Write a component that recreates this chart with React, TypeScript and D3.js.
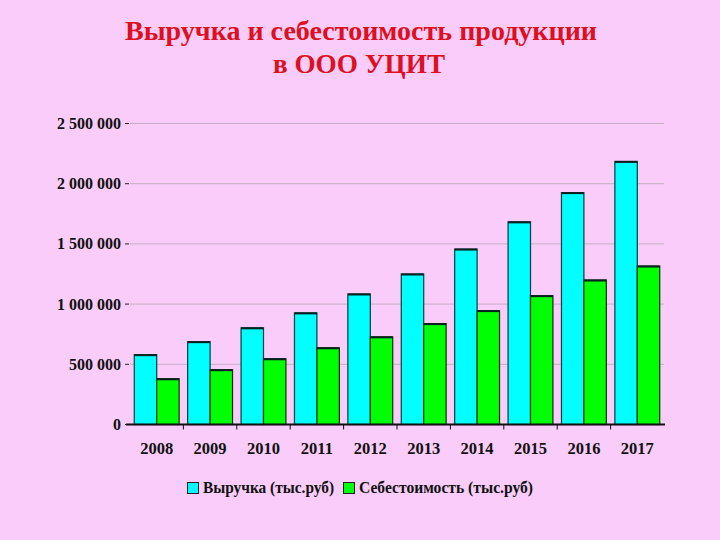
import React from "react";
import * as d3 from "d3";

const years = ["2008", "2009", "2010", "2011", "2012", "2013", "2014", "2015", "2016", "2017"];
const revenue = [580000, 688000, 803000, 927000, 1084000, 1250000, 1457000, 1683000, 1926000, 2185000];
const cost = [380000, 455000, 546000, 637000, 728000, 838000, 946000, 1070000, 1200000, 1316000];
const yTicks = [0, 500000, 1000000, 1500000, 2000000, 2500000];
const seriesNames = ["Выручка (тыс.руб)", "Себестоимость (тыс.руб)"];
const seriesColors = ["#00FFFF", "#00FF00"];
const seriesStroke = ["#073c3c", "#0b2f0b"];

const W = 720, H = 540;
const left = 130, right = 664, top = 123.5, bottom = 424.5;

const locale = d3.formatLocale({ decimal: ",", thousands: " ", grouping: [3], currency: ["", ""] });
const fmt = locale.format(",");

export default function App() {
  const x = d3.scaleBand().domain(years).range([left, right]).paddingInner(0.16).paddingOuter(0.08);
  const y = d3.scaleLinear().domain([0, 2500000]).range([bottom, top]);
  const bw = x.bandwidth() / 2;
  const step = x.step();
  const font = "'Liberation Serif', 'Times New Roman', serif";
  const series = [revenue, cost];
  return (
    <svg width={W} height={H} style={{ position: "absolute", left: 0, top: 0, display: "block" }}>
      <rect x={0} y={0} width={W} height={H} fill="#F9CCF9" />
      <text x={361} y={40} textAnchor="middle" fontFamily={font} fontWeight="bold" fontSize={27.5} fill="#DE0F1E"
        textLength={472} lengthAdjust="spacingAndGlyphs">
        Выручка и себестоимость продукции
      </text>
      <text x={359} y={73} textAnchor="middle" fontFamily={font} fontWeight="bold" fontSize={27.5} fill="#DE0F1E"
        textLength={172} lengthAdjust="spacingAndGlyphs">
        в ООО УЦИТ
      </text>
      {yTicks.map((t) => (
        <g key={t}>
          {t > 0 && <line x1={left} x2={right} y1={y(t)} y2={y(t)} stroke="#c4adc4" strokeWidth={1} />}
          <line x1={left - 5} x2={left - 1} y1={y(t)} y2={y(t)} stroke="#222" strokeWidth={1} />
          <text x={left - 9} y={y(t) + 5.5} textAnchor="end" fontFamily={font} fontWeight="bold" fontSize={16} fill="#111">
            {fmt(t)}
          </text>
        </g>
      ))}
      {series.map((vals, si) =>
        vals.map((v, i) => {
          const bx = (x(years[i]) as number) + si * bw;
          return (
            <g key={`${si}-${i}`}>
              <rect x={bx} y={y(v)} width={bw} height={bottom - y(v)} fill={seriesColors[si]} stroke={seriesStroke[si]} strokeWidth={1.2} />
              <line x1={bx} x2={bx + bw} y1={y(v) + 0.5} y2={y(v) + 0.5} stroke="#0a2020" strokeWidth={2} />
            </g>
          );
        })
      )}
      <line x1={left - 4} x2={right + 1} y1={bottom} y2={bottom} stroke="#111" strokeWidth={2} />
      {years.slice(1).map((yr) => {
        const tx = (x(yr) as number) - (step - x.bandwidth()) / 2;
        return <line key={yr} x1={tx} x2={tx} y1={bottom} y2={bottom + 5} stroke="#111" strokeWidth={1} />;
      })}
      {years.map((yr) => (
        <text key={yr} x={(x(yr) as number) + x.bandwidth() / 2} y={454} textAnchor="middle" fontFamily={font} fontWeight="bold" fontSize={16.5} fill="#111">
          {yr}
        </text>
      ))}
      <rect x={187.5} y={482.5} width={11} height={11} fill={seriesColors[0]} stroke="#222" strokeWidth={1} />
      <text x={203} y={493} fontFamily={font} fontWeight="bold" fontSize={16} fill="#111" textLength={131} lengthAdjust="spacingAndGlyphs">{seriesNames[0]}</text>
      <rect x={343.5} y={482.5} width={11} height={11} fill={seriesColors[1]} stroke="#222" strokeWidth={1} />
      <text x={359} y={493} fontFamily={font} fontWeight="bold" fontSize={16} fill="#111" textLength={174} lengthAdjust="spacingAndGlyphs">{seriesNames[1]}</text>
    </svg>
  );
}
